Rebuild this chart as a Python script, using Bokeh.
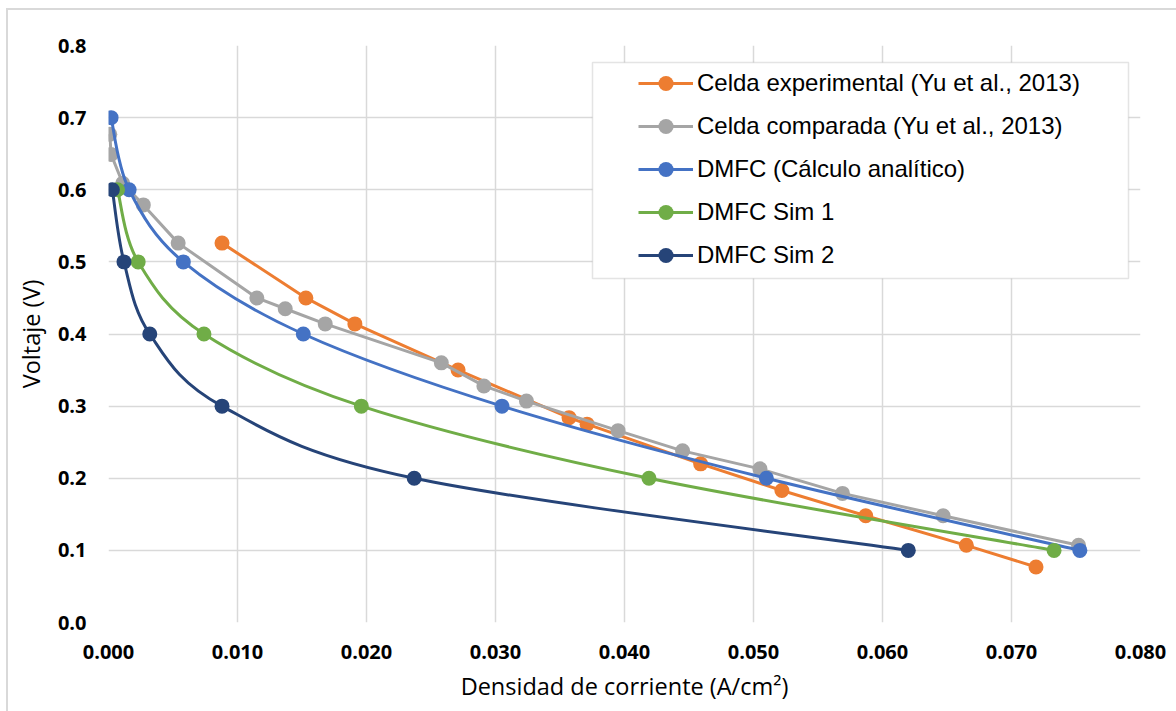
import numpy as np
from bokeh.plotting import figure
from bokeh.models import (Legend, LegendItem, BoxAnnotation, FixedTicker, Range1d)
from bokeh.embed import file_html
from bokeh.resources import INLINE

# ---- data ----
exp_x = [0.0088, 0.0153, 0.0191, 0.0271, 0.0357, 0.0371, 0.0459, 0.0522, 0.0587, 0.0665, 0.0719]
exp_y = [0.526, 0.450, 0.414, 0.350, 0.284, 0.275, 0.220, 0.183, 0.148, 0.107, 0.077]

comp_x = [0.0001, 0.0002, 0.0011, 0.0027, 0.0054, 0.0115, 0.0137, 0.0168, 0.0258, 0.0291,
          0.0324, 0.0395, 0.0445, 0.0505, 0.0569, 0.0647, 0.0752]
comp_y = [0.677, 0.649, 0.609, 0.579, 0.526, 0.450, 0.435, 0.414, 0.360, 0.328,
          0.307, 0.266, 0.238, 0.213, 0.179, 0.148, 0.107]

ana_x = [0.0002, 0.0016, 0.0058, 0.0151, 0.0305, 0.0510, 0.0753]
ana_y = [0.7, 0.6, 0.5, 0.4, 0.3, 0.2, 0.1]

sim1_x = [0.0007, 0.0023, 0.0074, 0.0196, 0.0419, 0.0733]
sim1_y = [0.6, 0.5, 0.4, 0.3, 0.2, 0.1]

sim2_x = [0.0003, 0.0012, 0.0032, 0.0088, 0.0237, 0.0620]
sim2_y = [0.6, 0.5, 0.4, 0.3, 0.2, 0.1]

series_names = ["Celda experimental (Yu et al., 2013)", "Celda comparada (Yu et al., 2013)",
                "DMFC (Cálculo analítico)", "DMFC Sim 1", "DMFC Sim 2"]

x_ticks = [0.0, 0.01, 0.02, 0.03, 0.04, 0.05, 0.06, 0.07, 0.08]
x_tick_labels = ["0.000", "0.010", "0.020", "0.030", "0.040", "0.050", "0.060", "0.070", "0.080"]
y_ticks = [0.0, 0.1, 0.2, 0.3, 0.4, 0.5, 0.6, 0.7, 0.8]
y_tick_labels = ["0.0", "0.1", "0.2", "0.3", "0.4", "0.5", "0.6", "0.7", "0.8"]

colors = ["#ED7D31", "#A5A5A5", "#4472C4", "#70AD47", "#264478"]

# ---- figure ----
# page offsets of the chart-area border (outer frame line)
OFF_L, OFF_T = 8, 10
p = figure(width=1176 - OFF_L, height=711 - OFF_T, output_backend="svg", toolbar_location=None,
           x_range=Range1d(0, 0.08), y_range=Range1d(0, 0.8),
           min_border_left=108 - OFF_L, min_border_right=38,
           min_border_top=45 - OFF_T, min_border_bottom=91)
p.margin = (OFF_T - 2, 0, 0, OFF_L - 2)
p.styles = {"border-top": "2px solid #d9d9d9", "border-left": "2px solid #d9d9d9",
            "box-sizing": "content-box"}
p.outline_line_color = None
p.background_fill_color = "white"
p.border_fill_color = "white"

AX_FONT = "Open Sans"
for ax in (p.xaxis[0], p.yaxis[0]):
    ax.axis_line_color = None
    ax.major_tick_line_color = None
    ax.minor_tick_line_color = None
    ax.major_tick_out = 0
    ax.major_label_text_font = AX_FONT
    ax.major_label_text_font_style = "bold"
    ax.major_label_text_font_size = "20px"
    ax.major_label_text_color = "#000000"
    ax.axis_label_text_font = AX_FONT
    ax.axis_label_text_font_style = "normal"
    ax.axis_label_text_font_size = "23.5px"
    ax.axis_label_text_color = "#000000"

p.xaxis.ticker = FixedTicker(ticks=x_ticks)
p.xaxis.major_label_overrides = dict(zip(x_ticks, x_tick_labels))
p.yaxis.ticker = FixedTicker(ticks=y_ticks)
p.yaxis.major_label_overrides = dict(zip(y_ticks, y_tick_labels))
p.xaxis.major_label_standoff = 22
p.yaxis.major_label_standoff = 22
p.xaxis.axis_label = "Densidad de corriente (A/cm²)"
p.yaxis.axis_label = "Voltaje (V)"
p.xaxis.axis_label_standoff = 8
p.yaxis.axis_label_standoff = 8

for g in (p.xgrid[0], p.ygrid[0]):
    g.grid_line_color = "#d9d9d9"
    g.grid_line_width = 1.5


def smooth_controls(xs, ys, t=1.0 / 6.0):
    x = np.asarray(xs, dtype=float)
    y = np.asarray(ys, dtype=float)
    n = len(x)
    xp = np.concatenate([[x[0]], x, [x[-1]]])
    yp = np.concatenate([[y[0]], y, [y[-1]]])
    cx0 = x[:-1] + (xp[2:n + 1] - xp[0:n - 1]) * t
    cy0 = y[:-1] + (yp[2:n + 1] - yp[0:n - 1]) * t
    cx1 = x[1:] - (xp[3:n + 2] - xp[1:n]) * t
    cy1 = y[1:] - (yp[3:n + 2] - yp[1:n]) * t
    return dict(x0=x[:-1], y0=y[:-1], x1=x[1:], y1=y[1:], cx0=cx0, cy0=cy0, cx1=cx1, cy1=cy1)


all_series = [(exp_x, exp_y, False), (comp_x, comp_y, False), (ana_x, ana_y, True),
              (sim1_x, sim1_y, True), (sim2_x, sim2_y, True)]

items = []
for (xs, ys, smooth), c, name in zip(all_series, colors, series_names):
    if smooth:
        d = smooth_controls(xs, ys)
        lr = p.bezier(x0=d["x0"], y0=d["y0"], x1=d["x1"], y1=d["y1"],
                      cx0=d["cx0"], cy0=d["cy0"], cx1=d["cx1"], cy1=d["cy1"],
                      line_color=c, line_width=3)
    else:
        lr = p.line(xs, ys, line_color=c, line_width=3)
    sr = p.scatter(xs, ys, marker="circle", size=15, fill_color=c, line_color=c, line_width=0)
    items.append(LegendItem(label=name, renderers=[lr, sr]))

# legend box (frame-relative screen units)
p.add_layout(BoxAnnotation(left=484, right=1020, bottom=344, top=560,
                           left_units="screen", right_units="screen",
                           bottom_units="screen", top_units="screen",
                           fill_color="white", fill_alpha=1,
                           line_color="#a6a6a6", line_width=1.5))

legend = Legend(items=items, location=(528, 346), padding=2, spacing=5,
                glyph_width=55, glyph_height=38, label_height=38, label_standoff=4,
                label_text_font="Liberation Sans", label_text_font_size="24px",
                label_text_color="#000000",
                background_fill_alpha=0, border_line_alpha=0, margin=0)
p.add_layout(legend, "center")

open("out.html", "w").write(file_html(p, INLINE))
